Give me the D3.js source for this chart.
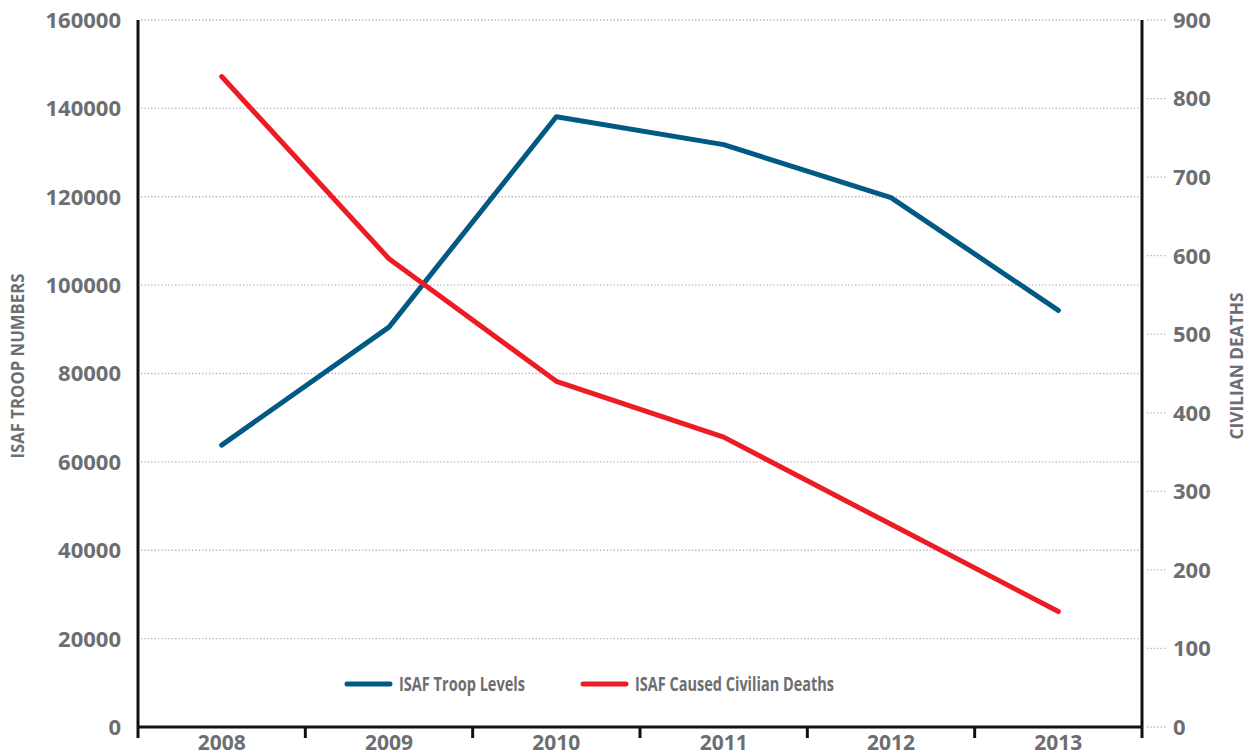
<!DOCTYPE html>
<html>
<head>
<meta charset="utf-8">
<script src="https://cdn.jsdelivr.net/npm/d3@7"></script>
<style>
  body { margin: 0; background: #fff; }
  svg text { font-family: "Open Sans", sans-serif; font-weight: 700; fill: #6d6e71; }
</style>
</head>
<body>
<div id="chart"></div>
<script>
const years = ['2008', '2009', '2010', '2011', '2012', '2013'];
const troops = [63800, 90500, 138100, 131800, 119800, 94300];
const deaths = [828, 596, 440, 369, 258, 147];
const leftTicks = [0, 20000, 40000, 60000, 80000, 100000, 120000, 140000, 160000];
const rightTicks = [0, 100, 200, 300, 400, 500, 600, 700, 800, 900];

const W = 1250, H = 756;
const m = {top: 20, right: 108, bottom: 29, left: 138};

const BLUE = '#005a84', RED = '#ed1c24';

let svg = d3.select('#chart').append('svg')
  .attr('width', W).attr('height', H);

let x = d3.scaleBand()
  .domain(years)
  .range([m.left, W - m.right]);

let yL = d3.scaleLinear()
  .domain([0, 160000])
  .range([H - m.bottom, m.top]);

let yR = d3.scaleLinear()
  .domain([0, 900])
  .range([H - m.bottom, m.top]);

// dotted grid (left scale)
svg.append('g')
  .selectAll('line')
  .data(leftTicks.filter(d => d > 0))
  .join('line')
  .attr('x1', m.left + 3).attr('x2', W - m.right - 2)
  .attr('y1', d => yL(d)).attr('y2', d => yL(d))
  .style('stroke', '#b3b3b3').style('stroke-width', 1.3)
  .style('stroke-dasharray', '1.3,2.1');

svg.append('g')
  .selectAll('text')
  .data(leftTicks)
  .join('text')
  .attr('x', 121).attr('y', d => yL(d))
  .attr('dy', '0.36em')
  .attr('text-anchor', 'end')
  .style('font-size', '22px')
  .text(d => d);

// right side: short dotted ticks
svg.append('g')
  .selectAll('line')
  .data(rightTicks)
  .join('line')
  .attr('x1', W - m.right + 5).attr('x2', W - m.right + 25)
  .attr('y1', d => yR(d)).attr('y2', d => yR(d))
  .style('stroke', '#b3b3b3').style('stroke-width', 1.3)
  .style('stroke-dasharray', '1.3,2.1');

svg.append('g')
  .selectAll('text')
  .data(rightTicks)
  .join('text')
  .attr('x', W - m.right + 31).attr('y', d => yR(d))
  .attr('dy', '0.36em')
  .style('font-size', '22px')
  .text(d => d);

// axes
svg.append('line')
  .attr('x1', m.left).attr('x2', m.left)
  .attr('y1', m.top).attr('y2', H - m.bottom + 11)
  .style('stroke', '#111').style('stroke-width', 3);

svg.append('line')
  .attr('x1', W - m.right).attr('x2', W - m.right)
  .attr('y1', m.top).attr('y2', H - m.bottom + 11)
  .style('stroke', '#111').style('stroke-width', 3);

svg.append('line')
  .attr('x1', m.left).attr('x2', W - m.right)
  .attr('y1', H - m.bottom).attr('y2', H - m.bottom)
  .style('stroke', '#111').style('stroke-width', 3);

svg.append('g')
  .selectAll('line')
  .data(years.slice(1))
  .join('line')
  .attr('x1', d => x(d)).attr('x2', d => x(d))
  .attr('y1', H - m.bottom).attr('y2', H - m.bottom + 11)
  .style('stroke', '#111').style('stroke-width', 3);

svg.append('g')
  .selectAll('text')
  .data(years)
  .join('text')
  .attr('x', d => x(d) + x.bandwidth() / 2)
  .attr('y', H - 6)
  .attr('text-anchor', 'middle')
  .style('font-size', '21px')
  .text(d => d);

// axis titles
svg.append('text')
  .attr('transform', 'translate(24,366) rotate(-90)')
  .attr('text-anchor', 'middle')
  .attr('textLength', 185).attr('lengthAdjust', 'spacingAndGlyphs')
  .style('font-size', '17px')
  .text('ISAF TROOP NUMBERS');

svg.append('text')
  .attr('transform', 'translate(1243,366) rotate(-90)')
  .attr('text-anchor', 'middle')
  .attr('textLength', 147).attr('lengthAdjust', 'spacingAndGlyphs')
  .style('font-size', '17px')
  .text('CIVILIAN DEATHS');

// lines
let cx = d => x(d) + x.bandwidth() / 2;

svg.append('path')
  .datum(years.map((d, i) => [cx(d), yL(troops[i])]))
  .attr('d', d3.line())
  .style('fill', 'none').style('stroke', BLUE)
  .style('stroke-width', 5).style('stroke-linecap', 'round').style('stroke-linejoin', 'round');

svg.append('path')
  .datum(years.map((d, i) => [cx(d), yR(deaths[i])]))
  .attr('d', d3.line())
  .style('fill', 'none').style('stroke', RED)
  .style('stroke-width', 5).style('stroke-linecap', 'round').style('stroke-linejoin', 'round');

// legend
let legend = [
  {label: 'ISAF Troop Levels', color: BLUE, x: 347, w: 126},
  {label: 'ISAF Caused Civilian Deaths', color: RED, x: 583, w: 199}
];
let lg = svg.append('g').selectAll('g').data(legend).join('g')
  .attr('transform', d => `translate(${d.x},684)`);
lg.append('line')
  .attr('x1', 0).attr('x2', 43)
  .style('stroke', d => d.color).style('stroke-width', 5).style('stroke-linecap', 'round');
lg.append('text')
  .attr('x', 52).attr('dy', '0.36em')
  .attr('textLength', d => d.w).attr('lengthAdjust', 'spacingAndGlyphs')
  .style('font-size', '20px')
  .text(d => d.label);
</script>
</body>
</html>
